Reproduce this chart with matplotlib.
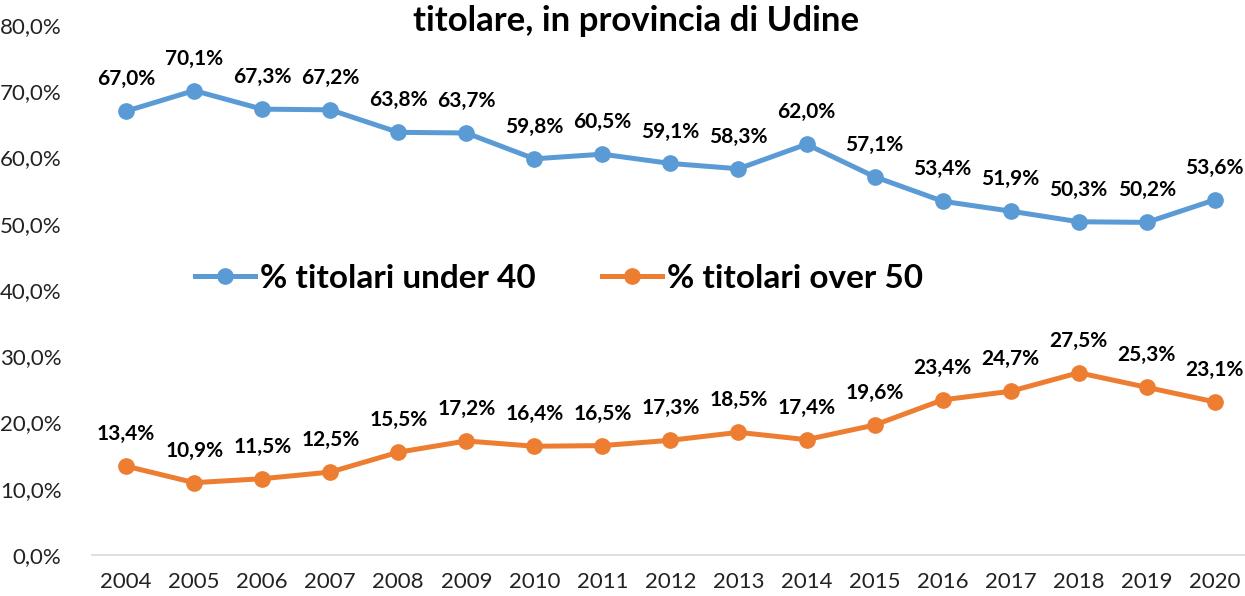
import matplotlib.pyplot as plt
from matplotlib.ticker import FuncFormatter

plt.rcParams['font.family'] = ['Lato', 'DejaVu Sans']

years = ['2004', '2005', '2006', '2007', '2008', '2009', '2010', '2011', '2012',
         '2013', '2014', '2015', '2016', '2017', '2018', '2019', '2020']
under_40 = [67.0, 70.1, 67.3, 67.2, 63.8, 63.7, 59.8, 60.5, 59.1, 58.3, 62.0,
            57.1, 53.4, 51.9, 50.3, 50.2, 53.6]
over_50 = [13.4, 10.9, 11.5, 12.5, 15.5, 17.2, 16.4, 16.5, 17.3, 18.5, 17.4,
           19.6, 23.4, 24.7, 27.5, 25.3, 23.1]
series_names = ['% titolari under 40', '% titolari over 50']
title = 'titolare, in provincia di Udine'

blue = '#5B9BD5'
orange = '#ED7D31'

def pct(v):
    return ('%.1f%%' % v).replace('.', ',')

fig = plt.figure(figsize=(12.45, 5.96), dpi=100)
ax = fig.add_axes([0.074, 0.069, 0.929, 0.889])

x = list(range(len(years)))
ax.plot(x, under_40, color=blue, lw=3.6, marker='o', ms=11, label=series_names[0])
ax.plot(x, over_50, color=orange, lw=3.6, marker='o', ms=11, label=series_names[1])

for xi, v in zip(x, under_40):
    ax.annotate(pct(v), (xi, v), xytext=(0, 23), textcoords='offset points',
                ha='center', va='center', fontsize=15, fontweight='bold')
for xi, v in zip(x, over_50):
    ax.annotate(pct(v), (xi, v), xytext=(0, 23), textcoords='offset points',
                ha='center', va='center', fontsize=15, fontweight='bold')

ax.set_xlim(-0.5, len(years) - 0.5)
ax.set_ylim(0, 80)
ax.set_yticks(range(0, 81, 10))
ax.yaxis.set_major_formatter(FuncFormatter(lambda v, p: pct(v)))
ax.set_xticks(x)
ax.set_xticklabels(years)
ax.tick_params(axis='both', length=0, labelsize=16, colors='#222222')
ax.tick_params(axis='x', pad=12)
ax.tick_params(axis='y', pad=22)

for s in ['top', 'right', 'left']:
    ax.spines[s].set_visible(False)
ax.spines['bottom'].set_color('#d9d9d9')
ax.spines['bottom'].set_linewidth(1.2)

leg = fig.legend(loc='center', bbox_to_anchor=(0.449, 0.533), ncol=2, frameon=False,
                 prop={'size': 24, 'weight': 'bold'}, handlelength=1.8,
                 columnspacing=2.0, handletextpad=0.15)

fig.text(0.511, 0.965, title, ha='center', va='center', fontsize=25, fontweight='bold')

fig.savefig('out.png', dpi=100)
